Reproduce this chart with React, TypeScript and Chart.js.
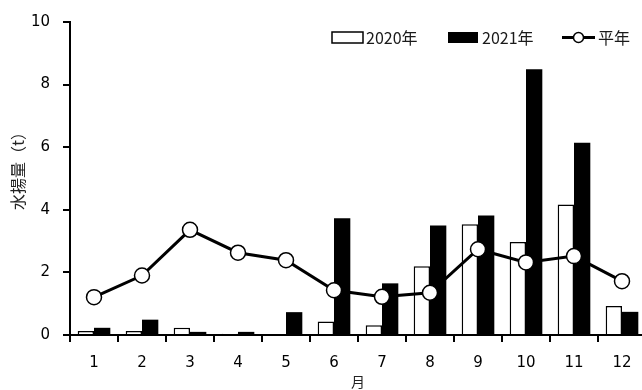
import React, { useEffect, useRef } from "react";
import { Chart, registerables } from "chart.js";

Chart.register(...registerables);

// 月別の水揚量（t）
const months = ["1", "2", "3", "4", "5", "6", "7", "8", "9", "10", "11", "12"];
const catch2020 = [0.13, 0.13, 0.23, 0.04, 0, 0.43, 0.31, 2.2, 3.54, 2.97, 4.17, 0.93];
const catch2021 = [0.23, 0.49, 0.1, 0.1, 0.73, 3.73, 1.65, 3.5, 3.82, 8.49, 6.14, 0.74];
const catchNormal = [1.21, 1.9, 3.36, 2.63, 2.39, 1.43, 1.22, 1.35, 2.74, 2.32, 2.52, 1.72];

const legendLabels = ["2020年", "2021年", "平年"];
const yTitle = "水揚量（t）";
const xTitle = "月";

const tickFont = "DejaVu Sans";
const jpFont = "'Noto Sans CJK JP'";

// Legend and rotated y title drawn directly on the canvas
const decorPlugin = {
  id: "decor",
  afterDraw(chart: any) {
    const ctx = chart.ctx as CanvasRenderingContext2D;
    ctx.save();
    // y axis title
    ctx.translate(18, 167);
    ctx.rotate(-Math.PI / 2);
    ctx.font = `16px ${jpFont}`;
    ctx.fillStyle = "#222";
    ctx.textAlign = "center";
    ctx.textBaseline = "middle";
    ctx.fillText(yTitle, 0, 0);
    ctx.restore();

    ctx.save();
    const cy = 37.5;
    ctx.font = `16px ${jpFont}`;
    ctx.textBaseline = "middle";
    ctx.textAlign = "left";
    // 2020
    ctx.fillStyle = "#fff";
    ctx.fillRect(332, 32, 31, 11);
    ctx.strokeStyle = "#000";
    ctx.lineWidth = 1.5;
    ctx.strokeRect(332, 32, 31, 11);
    ctx.fillStyle = "#1a1a1a";
    ctx.fillText(legendLabels[0], 366, cy);
    // 2021
    ctx.fillStyle = "#000";
    ctx.fillRect(448, 32, 30, 11);
    ctx.fillStyle = "#1a1a1a";
    ctx.fillText(legendLabels[1], 482, cy);
    // normal year
    ctx.strokeStyle = "#000";
    ctx.lineWidth = 3;
    ctx.beginPath();
    ctx.moveTo(562, cy);
    ctx.lineTo(595, cy);
    ctx.stroke();
    ctx.beginPath();
    ctx.arc(578.5, cy, 5, 0, Math.PI * 2);
    ctx.fillStyle = "#fff";
    ctx.fill();
    ctx.lineWidth = 1.5;
    ctx.stroke();
    ctx.fillStyle = "#1a1a1a";
    ctx.fillText(legendLabels[2], 598, cy);
    ctx.restore();
  },
};

export default function App() {
  const canvasRef = useRef<HTMLCanvasElement | null>(null);

  useEffect(() => {
    const canvas = canvasRef.current;
    if (!canvas) return;
    const chart = new Chart(canvas, {
      type: "bar",
      data: {
        labels: months,
        datasets: [
          {
            type: "line",
            label: legendLabels[2],
            data: catchNormal,
            borderColor: "#000",
            borderWidth: 3,
            pointRadius: 7.5,
            pointBorderWidth: 1.5,
            pointBackgroundColor: "#fff",
            pointBorderColor: "#000",
            fill: false,
            tension: 0,
            order: 0,
          } as any,
          {
            label: legendLabels[0],
            data: catch2020,
            backgroundColor: "#fff",
            borderColor: "#000",
            borderWidth: 1.5,
            categoryPercentage: 0.68,
            barPercentage: 1,
            order: 1,
          },
          {
            label: legendLabels[1],
            data: catch2021,
            backgroundColor: "#000",
            borderColor: "#000",
            borderWidth: 0,
            categoryPercentage: 0.68,
            barPercentage: 1,
            order: 1,
          },
        ],
      },
      options: {
        responsive: false,
        animation: false,
        devicePixelRatio: 1,
        layout: { padding: { top: 21, right: 14, left: 0, bottom: 0 } },
        plugins: {
          legend: { display: false },
          tooltip: { enabled: false },
        },
        scales: {
          x: {
            grid: {
              display: true,
              drawOnChartArea: false,
              drawTicks: true,
              tickLength: 7,
              color: "#000",
              lineWidth: 2,
              offset: true,
            },
            border: { display: true, color: "#000", width: 2 },
            ticks: {
              color: "#000",
              font: { family: tickFont, size: 15 },
              padding: 12,
              maxRotation: 0,
              autoSkip: false,
            },
            title: {
              display: true,
              text: xTitle,
              color: "#222",
              font: { family: "Noto Sans CJK JP", size: 14 },
              padding: 0,
            },
            afterFit(scale: any) {
              scale.height = 55;
            },
          },
          y: {
            min: 0,
            max: 10,
            ticks: {
              stepSize: 2,
              color: "#000",
              font: { family: tickFont, size: 15 },
              padding: 13,
            },
            grid: {
              display: true,
              drawOnChartArea: false,
              drawTicks: true,
              tickLength: 7,
              color: "#000",
              lineWidth: 2,
            },
            border: { display: true, color: "#000", width: 2 },
            afterFit(scale: any) {
              scale.width = 70;
            },
          },
        },
      },
      plugins: [decorPlugin],
    });
    return () => chart.destroy();
  }, []);

  return (
    <div
      style={{
        position: "fixed",
        left: 0,
        top: 0,
        width: 642,
        height: 390,
        overflow: "hidden",
        background: "#fff",
      }}
    >
      <canvas ref={canvasRef} width={660} height={390} style={{ display: "block" }} />
    </div>
  );
}
